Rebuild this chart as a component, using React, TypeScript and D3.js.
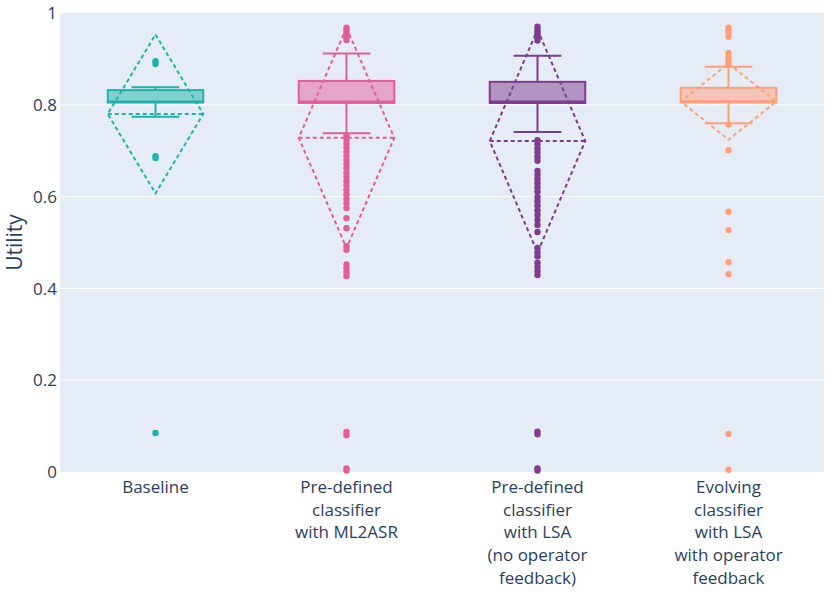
import React, { useRef, useEffect } from 'react';
import * as d3 from 'd3';

// box statistics, one entry per category
const labelLines = [
  ['Baseline'],
  ['Pre-defined', 'classifier', 'with ML2ASR'],
  ['Pre-defined', 'classifier', 'with LSA', '(no operator', 'feedback)'],
  ['Evolving', 'classifier', 'with LSA', 'with operator', 'feedback'],
];
const colors = ['#20B2AA', '#E15F99', '#7F3C8D', '#FFA07A'];

const q1 = [0.805, 0.804, 0.804, 0.805];
const medians = [0.807, 0.807, 0.807, 0.808];
const q3 = [0.832, 0.852, 0.85, 0.837];
const lowerFence = [0.774, 0.738, 0.741, 0.76];
const upperFence = [0.838, 0.912, 0.907, 0.883];
const means = [0.78, 0.728, 0.721, 0.807];
const sds = [0.173, 0.24, 0.243, 0.083];

const outliers = [
  [0.895, 0.889, 0.688, 0.684, 0.085],
  [
    0.968, 0.963, 0.958, 0.953, 0.947, 0.941, 0.733, 0.725, 0.716, 0.707, 0.698,
    0.689, 0.68, 0.671, 0.662, 0.652, 0.643, 0.634, 0.625, 0.615, 0.605, 0.595,
    0.585, 0.575, 0.553, 0.531, 0.492, 0.484, 0.452, 0.444, 0.435, 0.427,
    0.087, 0.08, 0.008, 0.003,
  ],
  [
    0.97, 0.964, 0.958, 0.952, 0.946, 0.94, 0.723, 0.714, 0.705, 0.696, 0.687,
    0.678, 0.656, 0.647, 0.638, 0.629, 0.62, 0.611, 0.599, 0.59, 0.58, 0.57,
    0.56, 0.549, 0.538, 0.523, 0.488, 0.479, 0.47, 0.456, 0.447, 0.438,
    0.429, 0.088, 0.082, 0.008, 0.003,
  ],
  [
    0.968, 0.962, 0.955, 0.948, 0.913, 0.905, 0.897, 0.89, 0.757, 0.701, 0.567, 0.527,
    0.457, 0.431, 0.083, 0.005,
  ],
];

const yTicks = [0, 0.2, 0.4, 0.6, 0.8, 1];

const W = 830;
const H = 595;
const margin = { top: 13, right: 6, bottom: 123, left: 60 };
const FONT = '"Open Sans", "Noto Sans", sans-serif';
const TEXT = '#2a3f5f';

const App: React.FC = () => {
  const ref = useRef<SVGSVGElement>(null);

  useEffect(() => {
    const svg = d3.select(ref.current);
    svg.selectAll('*').remove();

    const x = d3
      .scaleBand<number>()
      .domain(d3.range(labelLines.length))
      .range([margin.left, W - margin.right]);
    const y = d3.scaleLinear().domain([0, 1]).range([H - margin.bottom, margin.top]);

    svg
      .append('rect')
      .attr('x', margin.left)
      .attr('y', margin.top)
      .attr('width', W - margin.left - margin.right)
      .attr('height', H - margin.top - margin.bottom)
      .attr('fill', '#E5ECF6');

    // grid
    svg
      .append('g')
      .selectAll('line')
      .data(yTicks.filter((t) => t > 0 && t < 1))
      .enter()
      .append('line')
      .attr('x1', margin.left)
      .attr('x2', W - margin.right)
      .attr('y1', (d) => y(d))
      .attr('y2', (d) => y(d))
      .attr('stroke', '#fff')
      .attr('stroke-width', 1);

    // y tick labels
    svg
      .append('g')
      .selectAll('text')
      .data(yTicks)
      .enter()
      .append('text')
      .attr('x', margin.left - 3)
      .attr('y', (d) => y(d))
      .attr('dy', '0.36em')
      .attr('text-anchor', 'end')
      .attr('font-family', FONT)
      .attr('font-size', 17)
      .attr('fill', TEXT)
      .text((d) => d3.format('~g')(d));

    svg
      .append('text')
      .attr('transform', `translate(22,${(margin.top + H - margin.bottom) / 2}) rotate(-90)`)
      .attr('text-anchor', 'middle')
      .attr('font-family', FONT)
      .attr('font-size', 21)
      .attr('fill', TEXT)
      .text('Utility');

    // x labels
    labelLines.forEach((lines, i) => {
      const cx = x(i)! + x.bandwidth() / 2;
      const t = svg
        .append('text')
        .attr('text-anchor', 'middle')
        .attr('font-family', FONT)
        .attr('font-size', 17)
        .attr('fill', TEXT);
      lines.forEach((l, j) => {
        t.append('tspan')
          .attr('x', cx)
          .attr('y', H - margin.bottom + 21 + j * 22.7)
          .text(l);
      });
    });

    const boxW = x.bandwidth() * 0.5;

    labelLines.forEach((_, i) => {
      const c = colors[i];
      const cx = x(i)! + x.bandwidth() / 2;
      const g = svg.append('g');

      // box
      g.append('rect')
        .attr('x', cx - boxW / 2)
        .attr('y', y(q3[i]))
        .attr('width', boxW)
        .attr('height', y(q1[i]) - y(q3[i]))
        .attr('fill', c)
        .attr('fill-opacity', 0.5)
        .attr('stroke', c)
        .attr('stroke-width', 2);

      // median
      g.append('line')
        .attr('x1', cx - boxW / 2)
        .attr('x2', cx + boxW / 2)
        .attr('y1', y(medians[i]))
        .attr('y2', y(medians[i]))
        .attr('stroke', c)
        .attr('stroke-width', 2);

      // whiskers + caps
      const whisk = [
        [q3[i], upperFence[i]],
        [q1[i], lowerFence[i]],
      ];
      whisk.forEach(([a, b]) => {
        g.append('line')
          .attr('x1', cx)
          .attr('x2', cx)
          .attr('y1', y(a))
          .attr('y2', y(b))
          .attr('stroke', c)
          .attr('stroke-width', 2);
        g.append('line')
          .attr('x1', cx - boxW / 4)
          .attr('x2', cx + boxW / 4)
          .attr('y1', y(b))
          .attr('y2', y(b))
          .attr('stroke', c)
          .attr('stroke-width', 2);
      });

      // mean line + sd diamond
      const m = means[i];
      const s = sds[i];
      const diamond: [number, number][] = [
        [cx, y(m + s)],
        [cx + boxW / 2, y(m)],
        [cx, y(m - s)],
        [cx - boxW / 2, y(m)],
      ];
      g.append('path')
        .attr('d', d3.line()(diamond)! + 'Z')
        .attr('fill', 'none')
        .attr('stroke', c)
        .attr('stroke-width', 2)
        .attr('stroke-dasharray', '4,3');
      g.append('line')
        .attr('x1', cx - boxW / 2)
        .attr('x2', cx + boxW / 2)
        .attr('y1', y(m))
        .attr('y2', y(m))
        .attr('stroke', c)
        .attr('stroke-width', 2)
        .attr('stroke-dasharray', '4,3');

      // outlier points
      g.append('g')
        .selectAll('circle')
        .data(outliers[i])
        .enter()
        .append('circle')
        .attr('cx', cx)
        .attr('cy', (d) => y(d))
        .attr('r', 3.2)
        .attr('fill', c);
    });
  }, []);

  return (
    <div style={{ position: 'absolute', left: 0, top: 0 }}>
      <svg ref={ref} width={W} height={H} style={{ display: 'block', background: '#fff' }} />
    </div>
  );
};

export default App;
